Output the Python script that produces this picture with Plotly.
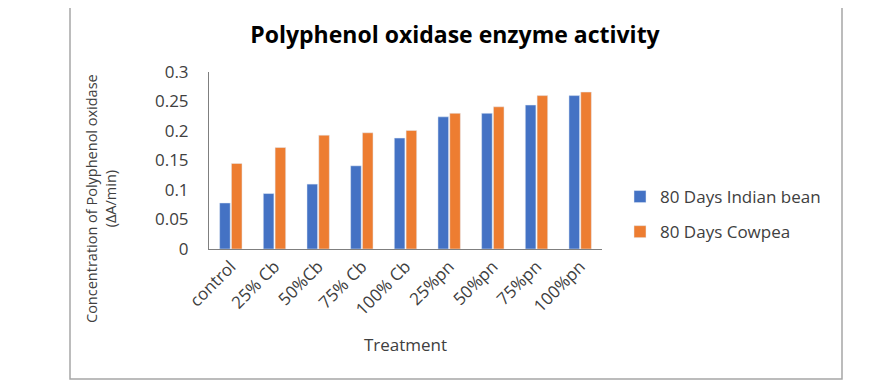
import plotly.graph_objects as go

categories = ["control", "25% Cb", "50%Cb", "75% Cb", "100% Cb", "25%pn", "50%pn", "75%pn", "100%pn"]
indian_bean = [0.078, 0.094, 0.110, 0.141, 0.188, 0.224, 0.230, 0.244, 0.260]
cowpea = [0.145, 0.172, 0.193, 0.197, 0.201, 0.230, 0.241, 0.260, 0.266]
y_ticks = [0, 0.05, 0.1, 0.15, 0.2, 0.25, 0.3]
y_tick_text = ["0", "0.05", "0.1", "0.15", "0.2", "0.25", "0.3"]

OFF = 8  # page body margin
W, H = 876 - OFF, 386 - OFF
L, R, T, B = 209 - OFF, 602 - OFF, 72 - OFF, 249 - OFF  # plot area in figure pixels

def px_x(px):
    return (px - OFF - L) / (R - L)

def px_y(py):
    return (B - (py - OFF)) / (B - T)

FONT = "Open Sans"
TXT = "#404040"

fig = go.Figure()
fig.add_trace(go.Bar(x=categories, y=indian_bean, name="80 Days Indian bean",
                     marker_color="#4472C4", legendgroup="a"))
fig.add_trace(go.Bar(x=categories, y=cowpea, name="80 Days Cowpea",
                     marker_color="#ED7D31", legendgroup="b"))

fig.update_layout(
    width=W, height=H,
    margin=dict(l=L, r=W - R, t=T, b=H - B, autoexpand=False),
    paper_bgcolor="white", plot_bgcolor="white",
    barmode="group", bargap=0.46, bargroupgap=0.1,
    font=dict(family=FONT, size=16, color=TXT),
    title=dict(text="<b>Polyphenol oxidase enzyme activity</b>",
               font=dict(family=FONT, size=23, color="#000000"),
               x=px_x(455), xref="paper", xanchor="center",
               y=1 - (35 - OFF) / H, yanchor="middle"),
    legend=dict(x=px_x(620), y=px_y(179), xanchor="left", yanchor="top",
                traceorder="grouped", tracegroupgap=10,
                font=dict(family=FONT, size=17, color=TXT),
                bgcolor="rgba(0,0,0,0)"),
    xaxis=dict(showline=True, linecolor="#7F7F7F", linewidth=1, showgrid=False,
               tickangle=-45, tickfont=dict(family=FONT, size=17, color=TXT),
               ticks="", title=dict(text="Treatment", standoff=20,
                                    font=dict(family=FONT, size=17, color=TXT))),
    yaxis=dict(range=[0, 0.3], tickvals=y_ticks, ticktext=y_tick_text,
               showline=True, linecolor="#7F7F7F", linewidth=1, showgrid=False,
               zeroline=False, ticks="", ticklabelstandoff=16,
               tickfont=dict(family=FONT, size=17, color=TXT)),
    shapes=[dict(type="rect", xref="paper", yref="paper",
                 x0=px_x(70), x1=px_x(842), y0=px_y(379), y1=px_y(3),
                 line=dict(color="#A6A6A6", width=1.5), layer="below")],
    annotations=[dict(text="Concentration of Polyphenol oxidase<br>(ΔA/min)",
                      xref="paper", yref="paper", x=px_x(101), y=px_y(199),
                      xanchor="center", yanchor="middle", textangle=-90,
                      showarrow=False, font=dict(family=FONT, size=14.5, color=TXT))],
)

fig.write_html("out.html")
